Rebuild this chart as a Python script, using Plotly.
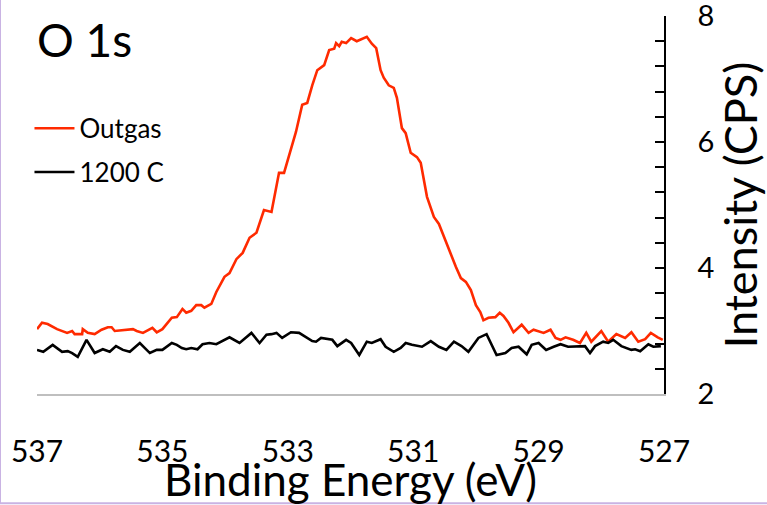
import plotly.graph_objects as go

# ---- data ----
outgas_be = [537.00, 536.92, 536.83, 536.68, 536.52, 536.44, 536.40, 536.28, 536.27, 536.19,
             536.08, 535.97, 535.87, 535.81, 535.76, 535.57, 535.47, 535.41, 535.31, 535.16,
             535.09, 535.00, 534.85, 534.77, 534.68, 534.62, 534.54, 534.46, 534.38, 534.33,
             534.22, 534.14, 534.06, 534.01, 533.93, 533.82, 533.72, 533.61, 533.50, 533.38,
             533.26, 533.14, 533.06, 532.95, 532.87, 532.77, 532.69, 532.61, 532.53, 532.42,
             532.34, 532.26, 532.23, 532.18, 532.14, 532.07, 531.99, 531.90, 531.82, 531.74,
             531.66, 531.59, 531.52, 531.47, 531.39, 531.31, 531.26, 531.18, 531.12, 531.04,
             530.94, 530.88, 530.78, 530.67, 530.59, 530.48, 530.40, 530.32, 530.24, 530.16,
             530.08, 530.00, 529.93, 529.88, 529.80, 529.69, 529.62, 529.56, 529.48, 529.40,
             529.27, 529.16, 529.08, 528.92, 528.81, 528.73, 528.65, 528.57, 528.45, 528.34,
             528.24, 528.16, 528.00, 527.89, 527.76, 527.62, 527.52, 527.41, 527.30, 527.21,
             527.10, 527.02]
outgas_cps = [3.03, 3.13, 3.11, 3.03, 2.97, 3.00, 2.95, 2.95, 3.03, 2.97,
              2.95, 3.02, 3.06, 3.06, 3.00, 3.02, 3.03, 3.00, 2.97, 3.05,
              2.98, 3.03, 3.21, 3.22, 3.35, 3.29, 3.32, 3.41, 3.41, 3.37,
              3.43, 3.62, 3.78, 3.86, 3.92, 4.14, 4.24, 4.48, 4.56, 4.92,
              4.89, 5.51, 5.51, 5.90, 6.16, 6.59, 6.62, 6.90, 7.14, 7.22,
              7.46, 7.48, 7.57, 7.52, 7.59, 7.57, 7.65, 7.60, 7.63, 7.67,
              7.56, 7.49, 7.14, 7.02, 6.90, 6.86, 6.70, 6.22, 6.14, 5.83,
              5.76, 5.67, 5.13, 4.81, 4.70, 4.41, 4.21, 4.02, 3.84, 3.78,
              3.65, 3.41, 3.30, 3.17, 3.21, 3.22, 3.29, 3.24, 3.13, 2.98,
              3.10, 2.97, 3.02, 2.97, 3.02, 2.89, 2.86, 2.90, 2.86, 2.81,
              2.97, 2.83, 3.00, 2.83, 2.95, 2.89, 2.98, 2.83, 2.87, 2.97,
              2.90, 2.86]

c1200_be = [537.00, 536.90, 536.75, 536.60, 536.51, 536.44, 536.35, 536.21, 536.08, 535.95,
            535.84, 535.74, 535.63, 535.52, 535.36, 535.20, 535.09, 535.00, 534.85, 534.77,
            534.69, 534.62, 534.54, 534.44, 534.36, 534.25, 534.14, 534.06, 533.93, 533.77,
            533.58, 533.45, 533.34, 533.26, 533.18, 533.09, 532.95, 532.82, 532.61, 532.55,
            532.47, 532.29, 532.21, 532.07, 531.99, 531.86, 531.74, 531.66, 531.52, 531.44,
            531.31, 531.20, 531.12, 531.02, 530.86, 530.72, 530.59, 530.47, 530.35, 530.23,
            530.12, 529.96, 529.83, 529.67, 529.53, 529.43, 529.32, 529.19, 529.11, 529.00,
            528.88, 528.76, 528.65, 528.53, 528.37, 528.26, 528.18, 528.10, 527.97, 527.89,
            527.81, 527.68, 527.52, 527.46, 527.38, 527.25, 527.17, 527.05]
c1200_cps = [2.70, 2.67, 2.78, 2.67, 2.68, 2.65, 2.59, 2.86, 2.65, 2.71,
             2.67, 2.76, 2.70, 2.67, 2.81, 2.65, 2.70, 2.70, 2.81, 2.78,
             2.73, 2.71, 2.73, 2.71, 2.79, 2.81, 2.79, 2.83, 2.90, 2.81,
             2.97, 2.81, 2.94, 2.95, 2.97, 2.89, 2.98, 2.97, 2.84, 2.83,
             2.89, 2.86, 2.76, 2.86, 2.81, 2.62, 2.83, 2.81, 2.87, 2.75,
             2.67, 2.73, 2.81, 2.78, 2.75, 2.84, 2.75, 2.70, 2.83, 2.76,
             2.67, 2.89, 2.95, 2.62, 2.65, 2.73, 2.75, 2.63, 2.78, 2.81,
             2.70, 2.75, 2.79, 2.75, 2.75, 2.76, 2.65, 2.76, 2.83, 2.81,
             2.86, 2.76, 2.70, 2.71, 2.68, 2.79, 2.75, 2.76]

x_ticks = [537, 535, 533, 531, 529, 527]
y_ticks = [2, 4, 6, 8]

FONT = "Lato"

fig = go.Figure()
fig.add_trace(go.Scatter(x=outgas_be, y=outgas_cps, mode="lines", name="Outgas",
                         legendgroup="a", line=dict(color="#FF2A00", width=2.6)))
fig.add_trace(go.Scatter(x=c1200_be, y=c1200_cps, mode="lines", name="1200 C",
                         legendgroup="b", line=dict(color="#000000", width=2.6)))

fig.update_layout(
    width=767, height=505,
    margin=dict(l=37, r=103, t=16, b=111),
    paper_bgcolor="white", plot_bgcolor="white",
    font=dict(family=FONT, color="black"),
    showlegend=True,
    legend=dict(x=-0.012, y=0.765, xanchor="left", yanchor="top",
                font=dict(size=26, family=FONT), tracegroupgap=7,
                bgcolor="rgba(0,0,0,0)", itemwidth=40),
    xaxis=dict(range=[537, 527], tickvals=x_ticks, ticktext=[str(v) for v in x_ticks],
               automargin=False,
               showgrid=False, zeroline=False, showline=True, linecolor="#BFBFBF", linewidth=1.5,
               ticks="", tickfont=dict(size=30, family=FONT), ticklabelstandoff=30,
               title=dict(text="Binding Energy (eV)", font=dict(size=44, family=FONT), standoff=0)),
    yaxis=dict(range=[2, 8], side="right", tickvals=y_ticks, showgrid=False, zeroline=False,
               automargin=False, ticklabeloverflow="allow",
               showline=True, linecolor="black", linewidth=1.5,
               ticks="inside", ticklen=9, tickcolor="black", tickwidth=1.5,
               minor=dict(dtick=0.4, ticks="inside", ticklen=9, tickcolor="black", tickwidth=1.5,
                          showgrid=False),
               tickfont=dict(size=29, family=FONT), ticklabelstandoff=26,
               title=dict(text="Intensity (CPS)", font=dict(size=45, family=FONT), standoff=2)),
    annotations=[dict(text="O 1s", xref="paper", yref="paper", x=-0.003, y=1.015,
                      xanchor="left", yanchor="top", showarrow=False,
                      font=dict(size=46, family=FONT, color="black"))],
    shapes=[
        dict(type="line", xref="paper", yref="paper", x0=-0.059, x1=-0.059, y0=-0.29, y1=1.05,
             line=dict(color="#C9B3E3", width=2)),
        dict(type="line", xref="paper", yref="paper", x0=-0.059, x1=1.17, y0=-0.289, y1=-0.289,
             line=dict(color="#C9B3E3", width=2)),
    ],
)

fig.write_html("out.html")
